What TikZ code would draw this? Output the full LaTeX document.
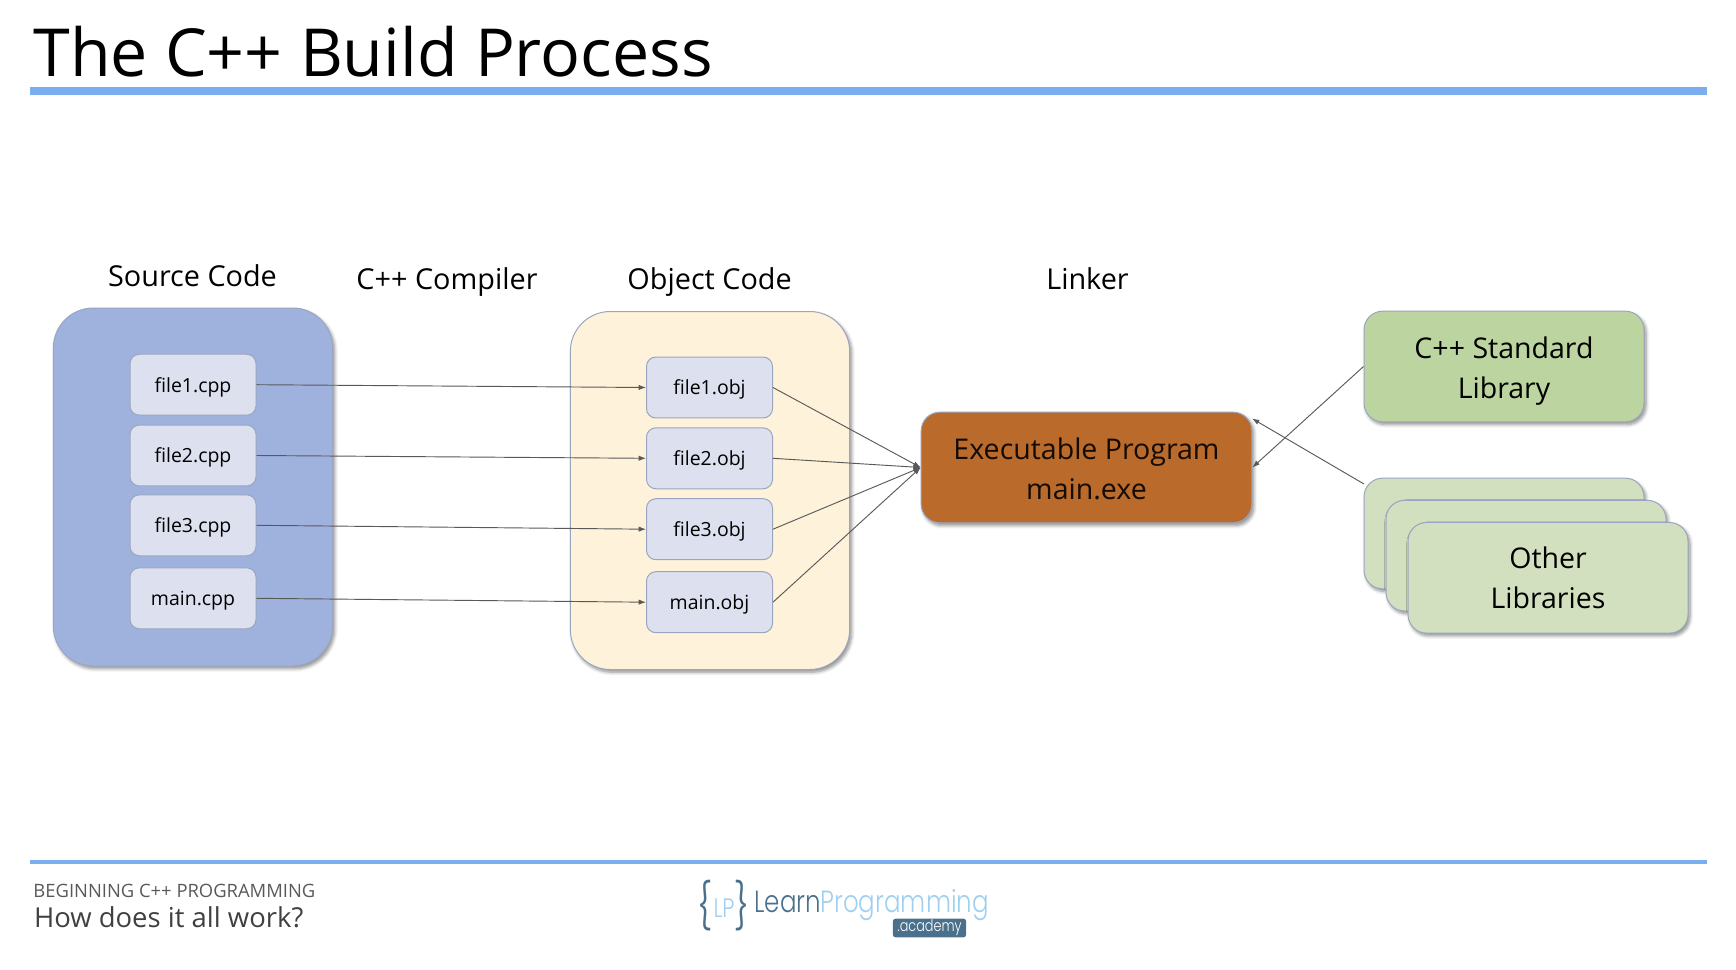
\documentclass[tikz,border=0pt]{standalone}
\usepackage{fontspec}
\setmainfont{Open Sans}
\newfontfamily\logofont[FakeStretch=0.8]{Poppins Light}
\usetikzlibrary{arrows.meta,shadows.blur}

\definecolor{ruleblue}{RGB}{123,174,238}
\definecolor{sourceblue}{RGB}{159,178,222}
\definecolor{objyellow}{RGB}{254,243,218}
\definecolor{filegrey}{RGB}{221,224,238}
\definecolor{fileedge}{RGB}{154,166,192}
\definecolor{exebrown}{RGB}{186,106,42}
\definecolor{stdgreen}{RGB}{187,212,160}
\definecolor{othergreen}{RGB}{210,224,192}
\definecolor{logodark}{RGB}{74,112,140}
\definecolor{logolight}{RGB}{160,208,240}

\tikzset{
  every picture/.style={line width=0.75pt},
  softshadow/.style={blur shadow={shadow xshift=1.5pt,shadow yshift=-2pt,shadow blur radius=2.5pt,shadow blur steps=6,shadow opacity=45}},
  groupbox/.style={draw=fileedge,rounded corners=30pt,minimum width=209.5pt,minimum height=268.5pt,inner sep=0pt,softshadow},
  filebox/.style={draw=fileedge,fill=filegrey,rounded corners=7pt,minimum width=94.5pt,minimum height=45.7pt,inner sep=0pt,text height=13pt,text depth=2pt,font=\fontsize{14.6}{17}\selectfont},
  bigbox/.style={draw=fileedge,rounded corners=14pt,minimum width=210pt,minimum height=83pt,inner sep=0pt,align=center,softshadow,font=\fontsize{21.4}{30}\selectfont},
  heading/.style={inner sep=0.75pt,text height=16pt,text depth=0pt,font=\fontsize{21.6}{26}\selectfont},
  flow/.style={draw=black!65,line width=0.7pt,-{Latex[length=5.5pt,width=4pt]}},
  ruleline/.style={draw=ruleblue},
}

\begin{document}
\begin{tikzpicture}[x=0.75pt,y=0.75pt,yscale=-1,xscale=1]
\useasboundingbox (0,0) rectangle (1736,970);

% Title
\node (title) [anchor=base west,inner sep=0pt,font=\fontsize{49.7}{60}\selectfont] at (33,77) {The C++ Build Process};
\draw [ruleline,line width=5.5pt] (30,91) -- (1707,91);

% Groups
\node (sourcegroup) [groupbox,fill=sourceblue] at (193,487) {};
\node (objgroup) [groupbox,fill=objyellow] at (710,490.5) {};

% Headings
\node (sourcehead) [heading] at (192.5,276) {Source Code};
\node (compilerhead) [heading] at (447,279) {C++ Compiler};
\node (objhead) [heading] at (709.6,279) {Object Code};
\node (linkerhead) [heading] at (1087.5,279) {Linker};

% Source files
\node (cppone) [filebox] at (193,384.7) {file1.cpp};
\node (cpptwo) [filebox] at (193,455.5) {file2.cpp};
\node (cppthree) [filebox] at (193,525.3) {file3.cpp};
\node (cppmain) [filebox] at (193,598.3) {main.cpp};

% Object files
\node (objone) [filebox] at (709.5,387.5) {file1.obj};
\node (objtwo) [filebox] at (709.5,458.3) {file2.obj};
\node (objthree) [filebox] at (709.5,529.2) {file3.obj};
\node (objmain) [filebox] at (709.5,602.2) {main.obj};

% Program and libraries
\node (exe) [bigbox,fill=exebrown,minimum width=248pt,text height=48.8pt,text=black!90!exebrown] at (1086.5,467.5) {Executable Program\\main.exe};
\node (stdlib) [bigbox,fill=stdgreen,text height=53pt] at (1504,366.5) {C++ Standard\\Library};
\node (libback) [bigbox,fill=othergreen] at (1504,533.5) {};
\node (libmid) [bigbox,fill=othergreen] at (1526,555.7) {};
\node (libfront) [bigbox,fill=othergreen,text height=47pt] at (1548,577.8) {Other\\Libraries};

\coordinate (libstart) at (1364,484);
\coordinate (exetop) at (1252,418.5);

% Compiler arrows
\draw [flow] (cppone.east) -- (objone.west);
\draw [flow] (cpptwo.east) -- (objtwo.west);
\draw [flow] (cppthree.east) -- (objthree.west);
\draw [flow] (cppmain.east) -- (objmain.west);

% Linker arrows
\draw [flow] (objone.east) -- (exe.west);
\draw [flow] (objtwo.east) -- (exe.west);
\draw [flow] (objthree.east) -- (exe.west);
\draw [flow] (objmain.east) -- (exe.west);
\draw [flow] (stdlib.west) -- (exe.east);
\draw [flow] (libstart) -- (exetop);

% Footer
\draw [ruleline,line width=2.6pt] (30,862) -- (1707,862);
\node (course) [anchor=base west,inner sep=0pt,text=black!65,font=\fontsize{13.8}{17}\selectfont] at (33,897) {BEGINNING C++ PROGRAMMING};
\node (topic) [anchor=base west,inner sep=0pt,text=black!75,font=\fontsize{20.6}{25}\selectfont] at (33.5,927) {How does it all work?};

% Logo
\node (logoleft) [inner sep=0pt,text=logodark,font=\logofont\fontsize{34}{40}\selectfont] at (705,906) {\{};
\node (logolp) [inner sep=0pt,text=logolight,font=\logofont\fontsize{20}{24}\selectfont] at (724,908) {LP};
\node (logoright) [inner sep=0pt,text=logodark,font=\logofont\fontsize{34}{40}\selectfont] at (742,906) {\}};
\node (logolearn) [anchor=base west,inner sep=0pt,text=logodark,font=\logofont\fontsize{23}{28}\selectfont] at (754,912) {Learn};
\node (logoprog) [anchor=base west,inner sep=0pt,text=logolight,font=\logofont\fontsize{23}{28}\selectfont] at (820,912) {Programming};
\node (logobadge) [fill=logodark,rounded corners=2pt,minimum width=55pt,minimum height=14pt,inner sep=0pt,text=white,font=\logofont\fontsize{12}{14}\selectfont] at (929.5,928) {.academy};

\end{tikzpicture}
\end{document}
